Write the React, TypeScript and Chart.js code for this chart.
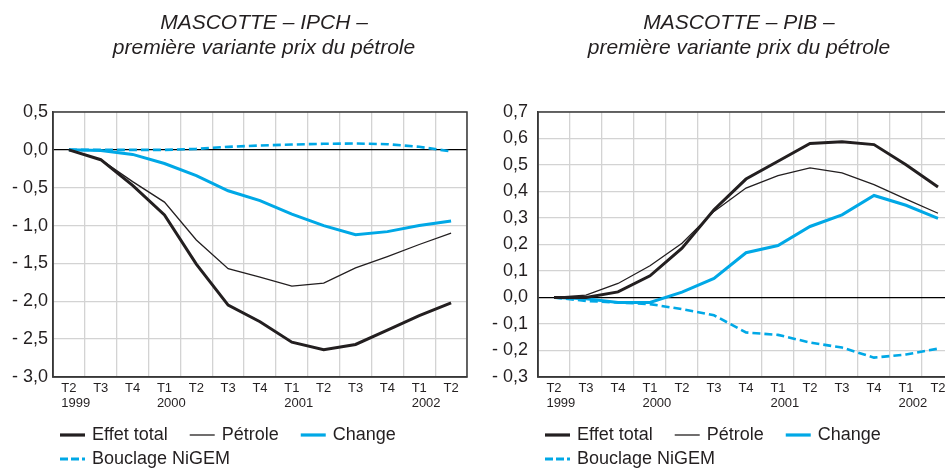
import React, { useEffect, useRef } from 'react';
import { Chart, registerables } from 'chart.js';

Chart.register(...registerables);

// ---------- data ----------
const quarters = ['T2', 'T3', 'T4', 'T1', 'T2', 'T3', 'T4', 'T1', 'T2', 'T3', 'T4', 'T1', 'T2'];
const years = ['1999', '', '', '2000', '', '', '', '2001', '', '', '', '2002', ''];

const seriesLabels = ['Effet total', 'Pétrole', 'Change', 'Bouclage NiGEM'];

const ipchEffetTotal = [0, -0.13, -0.47, -0.86, -1.51, -2.05, -2.27, -2.54, -2.64, -2.57, -2.38, -2.19, -2.02];
const ipchPetrole = [0, -0.13, -0.42, -0.69, -1.19, -1.57, -1.68, -1.8, -1.76, -1.56, -1.41, -1.25, -1.1];
const ipchChange = [0, -0.01, -0.06, -0.18, -0.34, -0.54, -0.67, -0.85, -1.0, -1.12, -1.08, -1.0, -0.94];
const ipchBouclage = [0, 0, 0, 0, 0.013, 0.04, 0.058, 0.07, 0.08, 0.084, 0.075, 0.04, -0.02];

const pibEffetTotal = [0, 0, 0.021, 0.082, 0.186, 0.331, 0.447, 0.514, 0.581, 0.588, 0.577, 0.501, 0.417];
const pibPetrole = [0, 0.009, 0.053, 0.12, 0.205, 0.325, 0.413, 0.46, 0.489, 0.47, 0.426, 0.371, 0.318];
const pibChange = [0, -0.005, -0.019, -0.019, 0.02, 0.072, 0.169, 0.196, 0.268, 0.312, 0.385, 0.348, 0.299];
const pibBouclage = [0, -0.013, -0.019, -0.025, -0.044, -0.067, -0.132, -0.141, -0.17, -0.189, -0.227, -0.215, -0.193];

const ipchTitle = ['MASCOTTE – IPCH –', 'première variante prix du pétrole'];
const pibTitle = ['MASCOTTE – PIB –', 'première variante prix du pétrole'];

const ipchAxis = [-3, 0.5, 0.5]; // min, max, step
const pibAxis = [-0.3, 0.7, 0.1];

// ---------- styles ----------
const FONT = '"Liberation Sans", Arial, Helvetica, sans-serif';
const BLACK = '#231f20';
const BLUE = '#00a8e6';
const GRID = '#d3d3d3';

Chart.defaults.font.family = FONT;

const fmt = (v: number) => {
  if (Math.abs(v) < 1e-9) return '0,0';
  const s = Math.abs(v).toFixed(1).replace('.', ',');
  return v < 0 ? '- ' + s : s;
};

function makeDatasets(a: number[], b: number[], c: number[], d: number[]) {
  return [
    { label: seriesLabels[0], data: a, borderColor: BLACK, borderWidth: 3, borderDash: [] as number[] },
    { label: seriesLabels[1], data: b, borderColor: BLACK, borderWidth: 1.3, borderDash: [] as number[] },
    { label: seriesLabels[2], data: c, borderColor: BLUE, borderWidth: 3, borderDash: [] as number[] },
    { label: seriesLabels[3], data: d, borderColor: BLUE, borderWidth: 2.6, borderDash: [8, 4] },
  ].map((ds) => ({ ...ds, pointRadius: 0, tension: 0, fill: false, backgroundColor: ds.borderColor }));
}

interface Cfg {
  title: string[];
  titleX: number;
  axis: number[];
  yWidth: number;
  yPad: number;
  padRight: number;
  data: number[][];
}

function makeDecor(cfg: Cfg) {
  return {
    id: 'decor',
    afterDraw(chart: any) {
      const ctx = chart.ctx as CanvasRenderingContext2D;
      const area = chart.chartArea;
      const xs = chart.scales.x;
      ctx.save();
      // frame
      ctx.strokeStyle = '#3a3a3a';
      ctx.lineWidth = 1.5;
      ctx.strokeRect(area.left, area.top, area.right - area.left, area.bottom - area.top);

      // titles
      ctx.fillStyle = BLACK;
      ctx.font = `italic 21px ${FONT}`;
      ctx.textAlign = 'center';
      ctx.textBaseline = 'alphabetic';
      ctx.fillText(cfg.title[0], cfg.titleX, 29);
      ctx.fillText(cfg.title[1], cfg.titleX, 54);

      // year labels, left-aligned with quarter labels
      ctx.font = `13px ${FONT}`;
      ctx.textAlign = 'left';
      ctx.textBaseline = 'middle';
      years.forEach((y, i) => {
        if (!y) return;
        const qw = ctx.measureText(quarters[i]).width;
        const x = xs.getPixelForValue(i) - qw / 2;
        ctx.fillText(y, x, area.bottom + 4 + 7.5 + 15);
      });

      // legend
      ctx.font = `18px ${FONT}`;
      const rows = [[0, 1, 2], [3]];
      const rowY = [435, 459];
      const dsets = chart.data.datasets;
      rows.forEach((row, r) => {
        let x = area.left + 7;
        const y = rowY[r];
        row.forEach((idx) => {
          const ds = dsets[idx];
          ctx.save();
          ctx.strokeStyle = ds.borderColor;
          ctx.lineWidth = idx === 1 ? 1.3 : 3.2;
          ctx.setLineDash(idx === 3 ? [8, 3] : []);
          ctx.beginPath();
          ctx.moveTo(x, y);
          ctx.lineTo(x + 25, y);
          ctx.stroke();
          ctx.restore();
          ctx.fillStyle = BLACK;
          const tx = x + 32;
          ctx.fillText(ds.label, tx, y);
          x = tx + ctx.measureText(ds.label).width + 22;
        });
      });
      ctx.restore();
    },
  };
}

function ChartCanvas({ cfg, left, width }: { cfg: Cfg; left: number; width: number }) {
  const ref = useRef<HTMLCanvasElement | null>(null);
  useEffect(() => {
    if (!ref.current) return;
    const [min, max, step] = cfg.axis;
    const chart = new Chart(ref.current, {
      type: 'line',
      data: {
        labels: quarters,
        datasets: makeDatasets(cfg.data[0], cfg.data[1], cfg.data[2], cfg.data[3]) as any,
      },
      options: {
        responsive: false,
        animation: false,
        devicePixelRatio: 1,
        layout: { padding: { left: 0, right: cfg.padRight, top: 112, bottom: 66 } },
        plugins: {
          legend: { display: false },
          title: { display: false },
          tooltip: { enabled: false },
        },
        scales: {
          x: {
            type: 'category',
            offset: true,
            grid: { offset: true, color: GRID, lineWidth: 1.3, drawTicks: false },
            border: { display: true, color: '#333', width: 1.5 },
            ticks: {
              color: BLACK,
              font: { size: 13, family: FONT, lineHeight: 15 / 13 },
              padding: 4,
              maxRotation: 0,
              autoSkip: false,
            },
            afterFit: (s: any) => {
              s.height = 25;
            },
          },
          y: {
            type: 'linear',
            min,
            max,
            grid: {
              color: (c: any) => (c.tick && Math.abs(c.tick.value) < 1e-9 ? '#000' : GRID),
              lineWidth: (c: any) => (c.tick && Math.abs(c.tick.value) < 1e-9 ? 1.2 : 1.3),
              drawTicks: false,
            },
            border: { display: true, color: '#333', width: 1.5 },
            ticks: {
              stepSize: step,
              color: BLACK,
              padding: cfg.yPad,
              font: { size: 18, family: FONT },
              callback: (v: any) => fmt(Number(v)),
            },
            afterFit: (s: any) => {
              s.width = cfg.yWidth;
            },
          },
        },
      } as any,
      plugins: [makeDecor(cfg)],
    });
    return () => chart.destroy();
  }, [cfg]);
  return (
    <canvas
      ref={ref}
      width={width}
      height={468}
      style={{ position: 'absolute', left, top: 0, width, height: 468, display: 'block' }}
    />
  );
}

const ipchCfg: Cfg = {
  title: ipchTitle,
  titleX: 264,
  axis: ipchAxis,
  yWidth: 53,
  yPad: 5,
  padRight: 13,
  data: [ipchEffetTotal, ipchPetrole, ipchChange, ipchBouclage],
};

const pibCfg: Cfg = {
  title: pibTitle,
  titleX: 259,
  axis: pibAxis,
  yWidth: 58,
  yPad: 10,
  padRight: 26,
  data: [pibEffetTotal, pibPetrole, pibChange, pibBouclage],
};

export default function App() {
  return (
    <div
      style={{
        position: 'absolute',
        left: 0,
        top: 0,
        width: 945,
        height: 468,
        overflow: 'hidden',
        background: '#fff',
      }}
    >
      <ChartCanvas cfg={ipchCfg} left={0} width={480} />
      <ChartCanvas cfg={pibCfg} left={480} width={500} />
    </div>
  );
}
